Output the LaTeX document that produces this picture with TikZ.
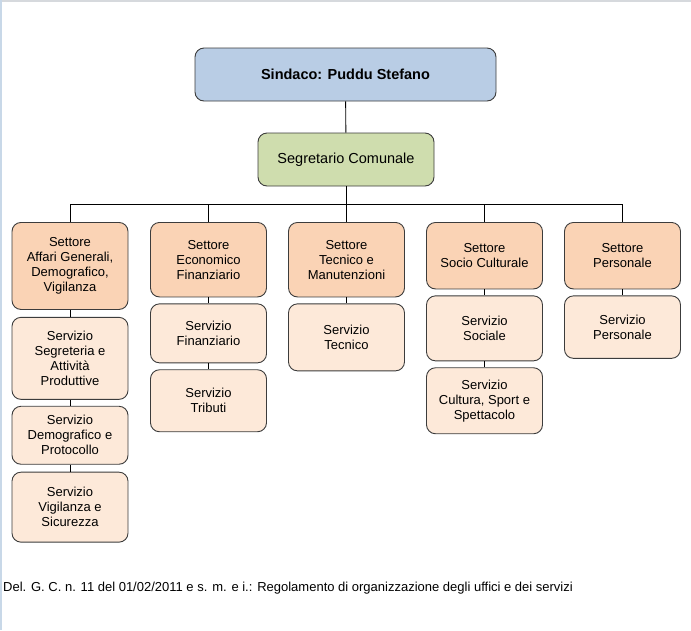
\documentclass[tikz,border=0pt]{standalone}
\usepackage{fontspec}
\setmainfont{Liberation Sans}
\usepackage{xcolor}
\definecolor{cSindaco}{HTML}{B9CDE5}
\definecolor{cSegr}{HTML}{CFDDAE}
\definecolor{cSettore}{HTML}{FAD3B5}
\definecolor{cServ}{HTML}{FDE9D9}
\definecolor{cEdge}{HTML}{3C3C3C}
\definecolor{cFrameTop}{HTML}{D6D9DD}
\definecolor{cFrameLeft}{HTML}{C8D8E8}
\usepackage{tikz}
\usetikzlibrary{positioning}
\tikzset{
  node-box/.style={draw=cEdge,line width=0.9pt,rounded corners=9pt,
    align=center,inner sep=2pt,minimum width=116pt,
    font=\fontsize{13}{15}\selectfont},
  node-top/.style={node-box,font=\fontsize{14.5}{17}\selectfont,minimum height=53pt},
  node-settore/.style={node-box,fill=cSettore},
  node-serv/.style={node-box,fill=cServ},
  link/.style={draw=black,line width=0.9pt},
}

\begin{document}
\begin{tikzpicture}[x=1pt,y=-1pt,node distance=6pt]
  \useasboundingbox (0,0) rectangle (691,630);
  \draw[cFrameTop,line width=1.5pt] (0,0.75) -- (691,0.75);
  \draw[cFrameLeft,line width=1.5pt] (0.75,0) -- (0.75,630);
  % vertici
  \node[node-top,fill=cSindaco,minimum width=301pt] (sindaco) at (345.5,74.5)
    {\textbf{Sindaco: Puddu Stefano}};
  \node[node-top,fill=cSegr,minimum width=176pt] (segretario) at (346,159.5)
    {Segretario Comunale};
  % settori
  \node[node-settore,anchor=north,minimum height=87pt] (set-ag) at (70,222)
    {Settore\\Affari Generali,\\Demografico,\\Vigilanza};
  \node[node-settore,anchor=north,minimum height=74.5pt] (set-ef) at (208.5,222)
    {Settore\\Economico\\Finanziario};
  \node[node-settore,anchor=north,minimum height=74.5pt] (set-tm) at (346.5,222)
    {Settore\\Tecnico e\\Manutenzioni};
  \node[node-settore,anchor=north,minimum height=66.5pt] (set-sc) at (484.5,222)
    {Settore\\Socio Culturale};
  \node[node-settore,anchor=north,minimum height=66.5pt] (set-pe) at (622.5,222)
    {Settore\\Personale};
  % servizi
  \node[node-serv,below=7pt of set-ag,minimum height=82pt] (srv-seg)
    {Servizio\\Segreteria e\\Attività\\Produttive};
  \node[node-serv,below=of srv-seg,minimum height=58pt] (srv-dem)
    {Servizio\\Demografico e\\Protocollo};
  \node[node-serv,below=7pt of srv-dem,minimum height=70pt] (srv-vig)
    {Servizio\\Vigilanza e\\Sicurezza};
  \node[node-serv,below=of set-ef,minimum height=59pt] (srv-fin)
    {Servizio\\Finanziario};
  \node[node-serv,below=of srv-fin,minimum height=62pt] (srv-tri)
    {Servizio\\Tributi};
  \node[node-serv,below=of set-tm,minimum height=67pt] (srv-tec)
    {Servizio\\Tecnico};
  \node[node-serv,below=of set-sc,minimum height=65pt] (srv-soc)
    {Servizio\\Sociale};
  \node[node-serv,below=of srv-soc,minimum height=66pt] (srv-cul)
    {Servizio\\Cultura, Sport e\\Spettacolo};
  \node[node-serv,below=of set-pe,minimum height=62.5pt] (srv-per)
    {Servizio\\Personale};
  % nota
  \node[anchor=base west,inner sep=0pt,font=\fontsize{13}{15}\selectfont] (nota) at (3,591)
    {Del. G. C. n. 11 del 01/02/2011 e s. m. e i.: Regolamento di organizzazione degli uffici e dei servizi};
  % collegamenti
  \draw[link] (sindaco) -- (segretario);
  \foreach \s in {set-ag,set-ef,set-tm,set-sc,set-pe}
    \draw[link] (segretario.south) -- ++(0,18) -| (\s.north);
  \draw[link] (set-ag) -- (srv-seg);
  \draw[link] (srv-seg) -- (srv-dem);
  \draw[link] (srv-dem) -- (srv-vig);
  \draw[link] (set-ef) -- (srv-fin);
  \draw[link] (srv-fin) -- (srv-tri);
  \draw[link] (set-tm) -- (srv-tec);
  \draw[link] (set-sc) -- (srv-soc);
  \draw[link] (srv-soc) -- (srv-cul);
  \draw[link] (set-pe) -- (srv-per);
\end{tikzpicture}
\end{document}
